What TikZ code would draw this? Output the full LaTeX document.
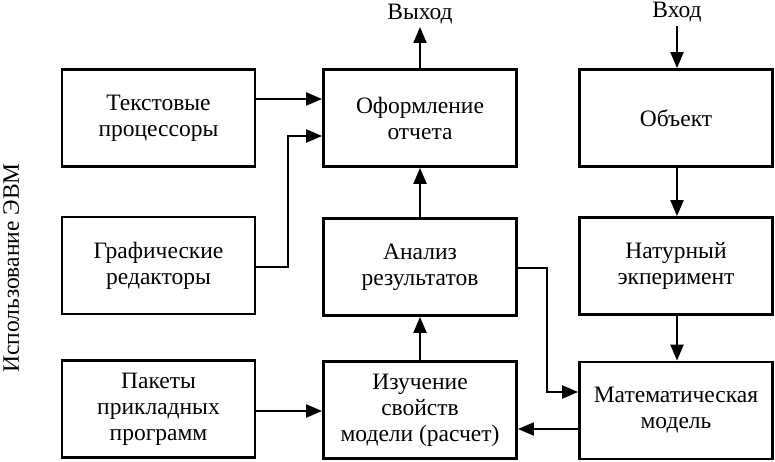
\documentclass[tikz,border=0pt]{standalone}
\usepackage{fontspec}
\setmainfont{Liberation Serif}
\usetikzlibrary{arrows.meta}
\begin{document}
\begin{tikzpicture}[x=1pt,y=-1pt,
  blk/.style={draw,line width=2.8pt,minimum width=193pt,minimum height=97pt,align=center,inner sep=0pt,font=\fontsize{23.5pt}{26pt}\selectfont},
  conn/.style={line width=2.2pt,-{Triangle[length=16pt,width=13pt]}},
  lbl/.style={inner sep=0pt,font=\fontsize{23.5pt}{26pt}\selectfont}]
\useasboundingbox (0,0) rectangle (775,462);
\node[blk] (tp) at (158.5,118) {Текстовые\\процессоры};
\node[blk] (gr) at (158.5,265.5) {Графические\\редакторы};
\node[blk] (pk) at (158.5,409) {Пакеты\\прикладных\\программ};
\node[blk] (of) at (420,118) {Оформление\\отчета};
\node[blk] (an) at (420,267) {Анализ\\результатов};
\node[blk] (iz) at (420,410) {Изучение\\свойств\\модели (расчет)};
\node[blk] (ob) at (676,118) {Объект};
\node[blk] (nt) at (676,266) {Натурный\\экперимент};
\node[blk] (mm) at (676,410.5) {Математическая\\модель};
\node[lbl,anchor=base] (out) at (420,20) {Выход};
\node[lbl,anchor=base] (in) at (677,18) {Вход};
\node[lbl,rotate=90,anchor=north,inner sep=1pt] (evm) at (2,268) {Использование ЭВМ};
\coordinate (j1) at (288,136);
\coordinate (j2) at (547,268);
\draw[conn] (tp.east |- 0,99) -- (of.west |- 0,99);
\draw[conn] (gr.east |- 0,267) -| (j1) -- (of.west |- j1);
\draw[conn] (pk.east |- 0,411) -- (iz.west |- 0,411);
\draw[conn] (of.north) -- (out.south |- 0,27);
\draw[conn] (an.north) -- (of.south);
\draw[conn] (iz.north) -- (an.south);
\draw[conn] (in.south |- 0,26) -- (ob.north -| in.south);
\draw[conn] (ob.south -| in.south) -- (nt.north -| in.south);
\draw[conn] (nt.south -| in.south) -- (mm.north -| in.south);
\draw[conn] (an.east |- j2) -- (j2) |- (mm.west |- 0,392);
\draw[conn] (mm.west |- 0,429) -- (iz.east |- 0,429);
\end{tikzpicture}
\end{document}
